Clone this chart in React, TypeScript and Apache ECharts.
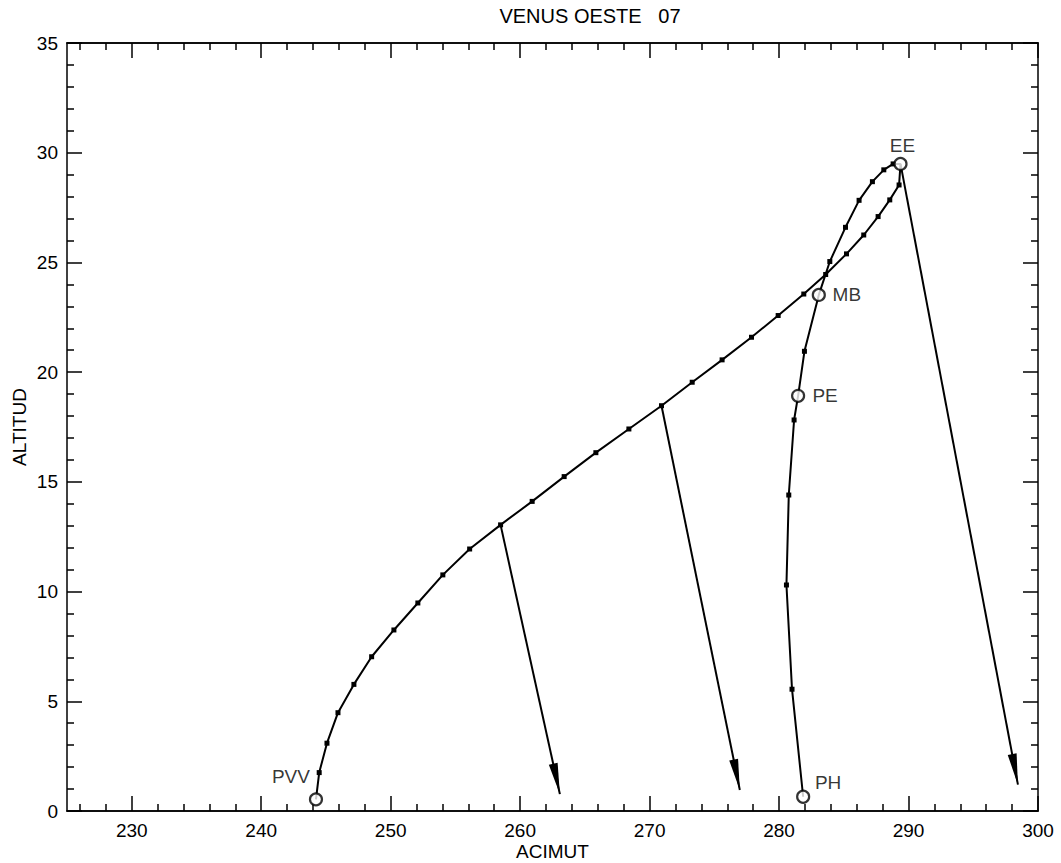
import React, { useEffect, useRef } from "react";
import * as echarts from "echarts";

// Tick values
const xMajorTicks = [230, 240, 250, 260, 270, 280, 290, 300];
const xMinorTicks = [226, 228, 232, 234, 236, 238, 242, 244, 246, 248, 252, 254, 256, 258, 262, 264, 266, 268, 272, 274, 276, 278, 282, 284, 286, 288, 292, 294, 296, 298];

// Venus path at sunset (azimuth, altitude), in date order
const pathAz = [244.23, 244.48, 245.08, 245.93, 247.16, 248.53, 250.25, 252.1, 254.03, 256.1, 258.49, 260.93, 263.4, 265.85, 268.4, 270.92, 273.29, 275.6, 277.87, 279.93, 281.91, 283.6, 285.21, 286.54, 287.65, 288.55, 289.27, 289.38, 288.81, 288.09, 287.21, 286.18, 285.13, 283.92, 283.07, 281.96, 281.47, 281.16, 280.75, 280.57, 281.0, 281.86];
const pathAlt = [0.53, 1.75, 3.09, 4.48, 5.77, 7.03, 8.25, 9.48, 10.76, 11.94, 13.04, 14.11, 15.24, 16.33, 17.41, 18.47, 19.54, 20.56, 21.59, 22.58, 23.56, 24.45, 25.39, 26.25, 27.09, 27.85, 28.53, 29.49, 29.49, 29.22, 28.68, 27.83, 26.6, 25.04, 23.52, 20.95, 18.92, 17.82, 14.4, 10.3, 5.55, 0.65];

// Named events (index into path)
const eventNames = ["PVV", "EE", "MB", "PE", "PH"];
const eventIndex = [0, 27, 34, 36, 41];

// Setting-direction arrows
const arrowFromAz = [258.49, 270.92, 289.38];
const arrowFromAlt = [13.04, 18.47, 29.49];
const arrowToAz = [263.07, 276.97, 298.45];
const arrowToAlt = [0.77, 0.96, 1.2];

const FONT = "'Liberation Sans', Arial, Helvetica, sans-serif";
const INK = "#000000";
const FS = 19;

const labelOffsets: Record<string, [number, number]> = {
  PVV: [-25, -23],
  EE: [2, -18],
  MB: [28, 0],
  PE: [27, 0],
  PH: [25, -14],
};

export default function App() {
  const ref = useRef<HTMLDivElement>(null);

  useEffect(() => {
    if (!ref.current) return;
    const chart = echarts.init(ref.current, null, { renderer: "svg" });

    const pathData = pathAz.map((az, i) => ({
      value: [az, pathAlt[i]],
      symbol: eventIndex.includes(i) ? "none" : "rect",
    }));

    const eventData = eventNames.map((n, k) => {
      const i = eventIndex[k];
      return {
        name: n,
        value: [pathAz[i], pathAlt[i]],
        label: {
          show: true,
          position: "inside",
          offset: labelOffsets[n],
          formatter: n,
          color: INK,
          fontSize: FS,
          fontFamily: FONT,
        },
      };
    });

    const arrowData = arrowFromAz.map((az, i) => ({
      coords: [
        [az, arrowFromAlt[i]],
        [arrowToAz[i], arrowToAlt[i]],
      ],
    }));

    const axisLine = { show: true, lineStyle: { color: INK, width: 1.5 } };
    const tickStyle = { color: INK, width: 1.5 };

    const xBase = {
      type: "value",
      min: 225,
      max: 300,
      axisLine,
      splitLine: { show: false },
    };

    const yBase = {
      type: "value",
      min: 0,
      max: 35,
      interval: 5,
      axisLine,
      splitLine: { show: false },
      axisTick: { show: true, inside: true, length: 15, lineStyle: tickStyle },
      minorTick: { show: true, splitNumber: 5, length: 7, lineStyle: tickStyle },
      minorSplitLine: { show: false },
    };

    chart.setOption({
      animation: false,
      backgroundColor: "#ffffff",
      graphic: [
        {
          type: "text",
          x: 590,
          y: 16,
          style: {
            text: "VENUS OESTE   07",
            fill: INK,
            font: `20px ${FONT}`,
            align: "center",
            verticalAlign: "middle",
          },
        },
      ],
      grid: {
        left: 67,
        right: 23,
        top: 43,
        bottom: 52,
        containLabel: false,
        outerBoundsMode: "none",
      },
      xAxis: [
        {
          ...xBase,
          position: "bottom",
          axisTick: { show: true, inside: true, length: 15, customValues: xMajorTicks, lineStyle: tickStyle },
          axisLabel: {
            show: true,
            customValues: xMajorTicks,
            fontSize: FS,
            lineHeight: 19,
            color: INK,
            margin: 10,
            fontFamily: FONT,
          },
          name: "ACIMUT",
          nameLocation: "middle",
          nameGap: 31,
          nameMoveOverlap: false,
          nameTextStyle: { fontSize: FS, lineHeight: 19, color: INK, fontFamily: FONT },
        },
        {
          ...xBase,
          position: "bottom",
          axisTick: { show: true, inside: true, length: 7, customValues: xMinorTicks, lineStyle: tickStyle },
          axisLabel: { show: false },
        },
        {
          ...xBase,
          position: "top",
          axisTick: { show: true, inside: true, length: 15, customValues: xMajorTicks, lineStyle: tickStyle },
          axisLabel: { show: false },
        },
        {
          ...xBase,
          position: "top",
          axisTick: { show: true, inside: true, length: 7, customValues: xMinorTicks, lineStyle: tickStyle },
          axisLabel: { show: false },
        },
      ],
      yAxis: [
        {
          ...yBase,
          position: "left",
          axisLabel: { show: true, fontSize: FS, color: INK, margin: 9, fontFamily: FONT },
          name: "ALTITUD",
          nameLocation: "middle",
          nameGap: 38,
          nameMoveOverlap: false,
          nameTextStyle: { fontSize: FS, color: INK, fontFamily: FONT },
        },
        {
          ...yBase,
          position: "right",
          axisLabel: { show: false },
        },
      ],
      series: [
        {
          type: "line",
          xAxisIndex: 0,
          yAxisIndex: 0,
          data: pathData,
          showSymbol: true,
          symbolSize: 5,
          lineStyle: { color: INK, width: 2 },
          itemStyle: { color: INK },
          z: 3,
        },
        {
          type: "lines",
          coordinateSystem: "cartesian2d",
          xAxisIndex: 0,
          yAxisIndex: 0,
          data: arrowData,
          symbol: ["none", "path://M4,0 M4,30 L8,60 L0,60 Z"],
          symbolSize: [
            [9, 62],
            [9, 62],
          ],
          lineStyle: { color: INK, width: 2, opacity: 1, curveness: 0 },
          z: 2,
        },
        {
          type: "scatter",
          xAxisIndex: 0,
          yAxisIndex: 0,
          data: eventData,
          symbol: "circle",
          symbolSize: 12,
          itemStyle: { color: "#ffffff", borderColor: INK, borderWidth: 2.2 },
          z: 5,
        },
      ],
    });

    return () => chart.dispose();
  }, []);

  return (
    <div
      ref={ref}
      style={{ position: "absolute", left: 0, top: 0, width: 1061, height: 863, background: "#fff" }}
    />
  );
}
